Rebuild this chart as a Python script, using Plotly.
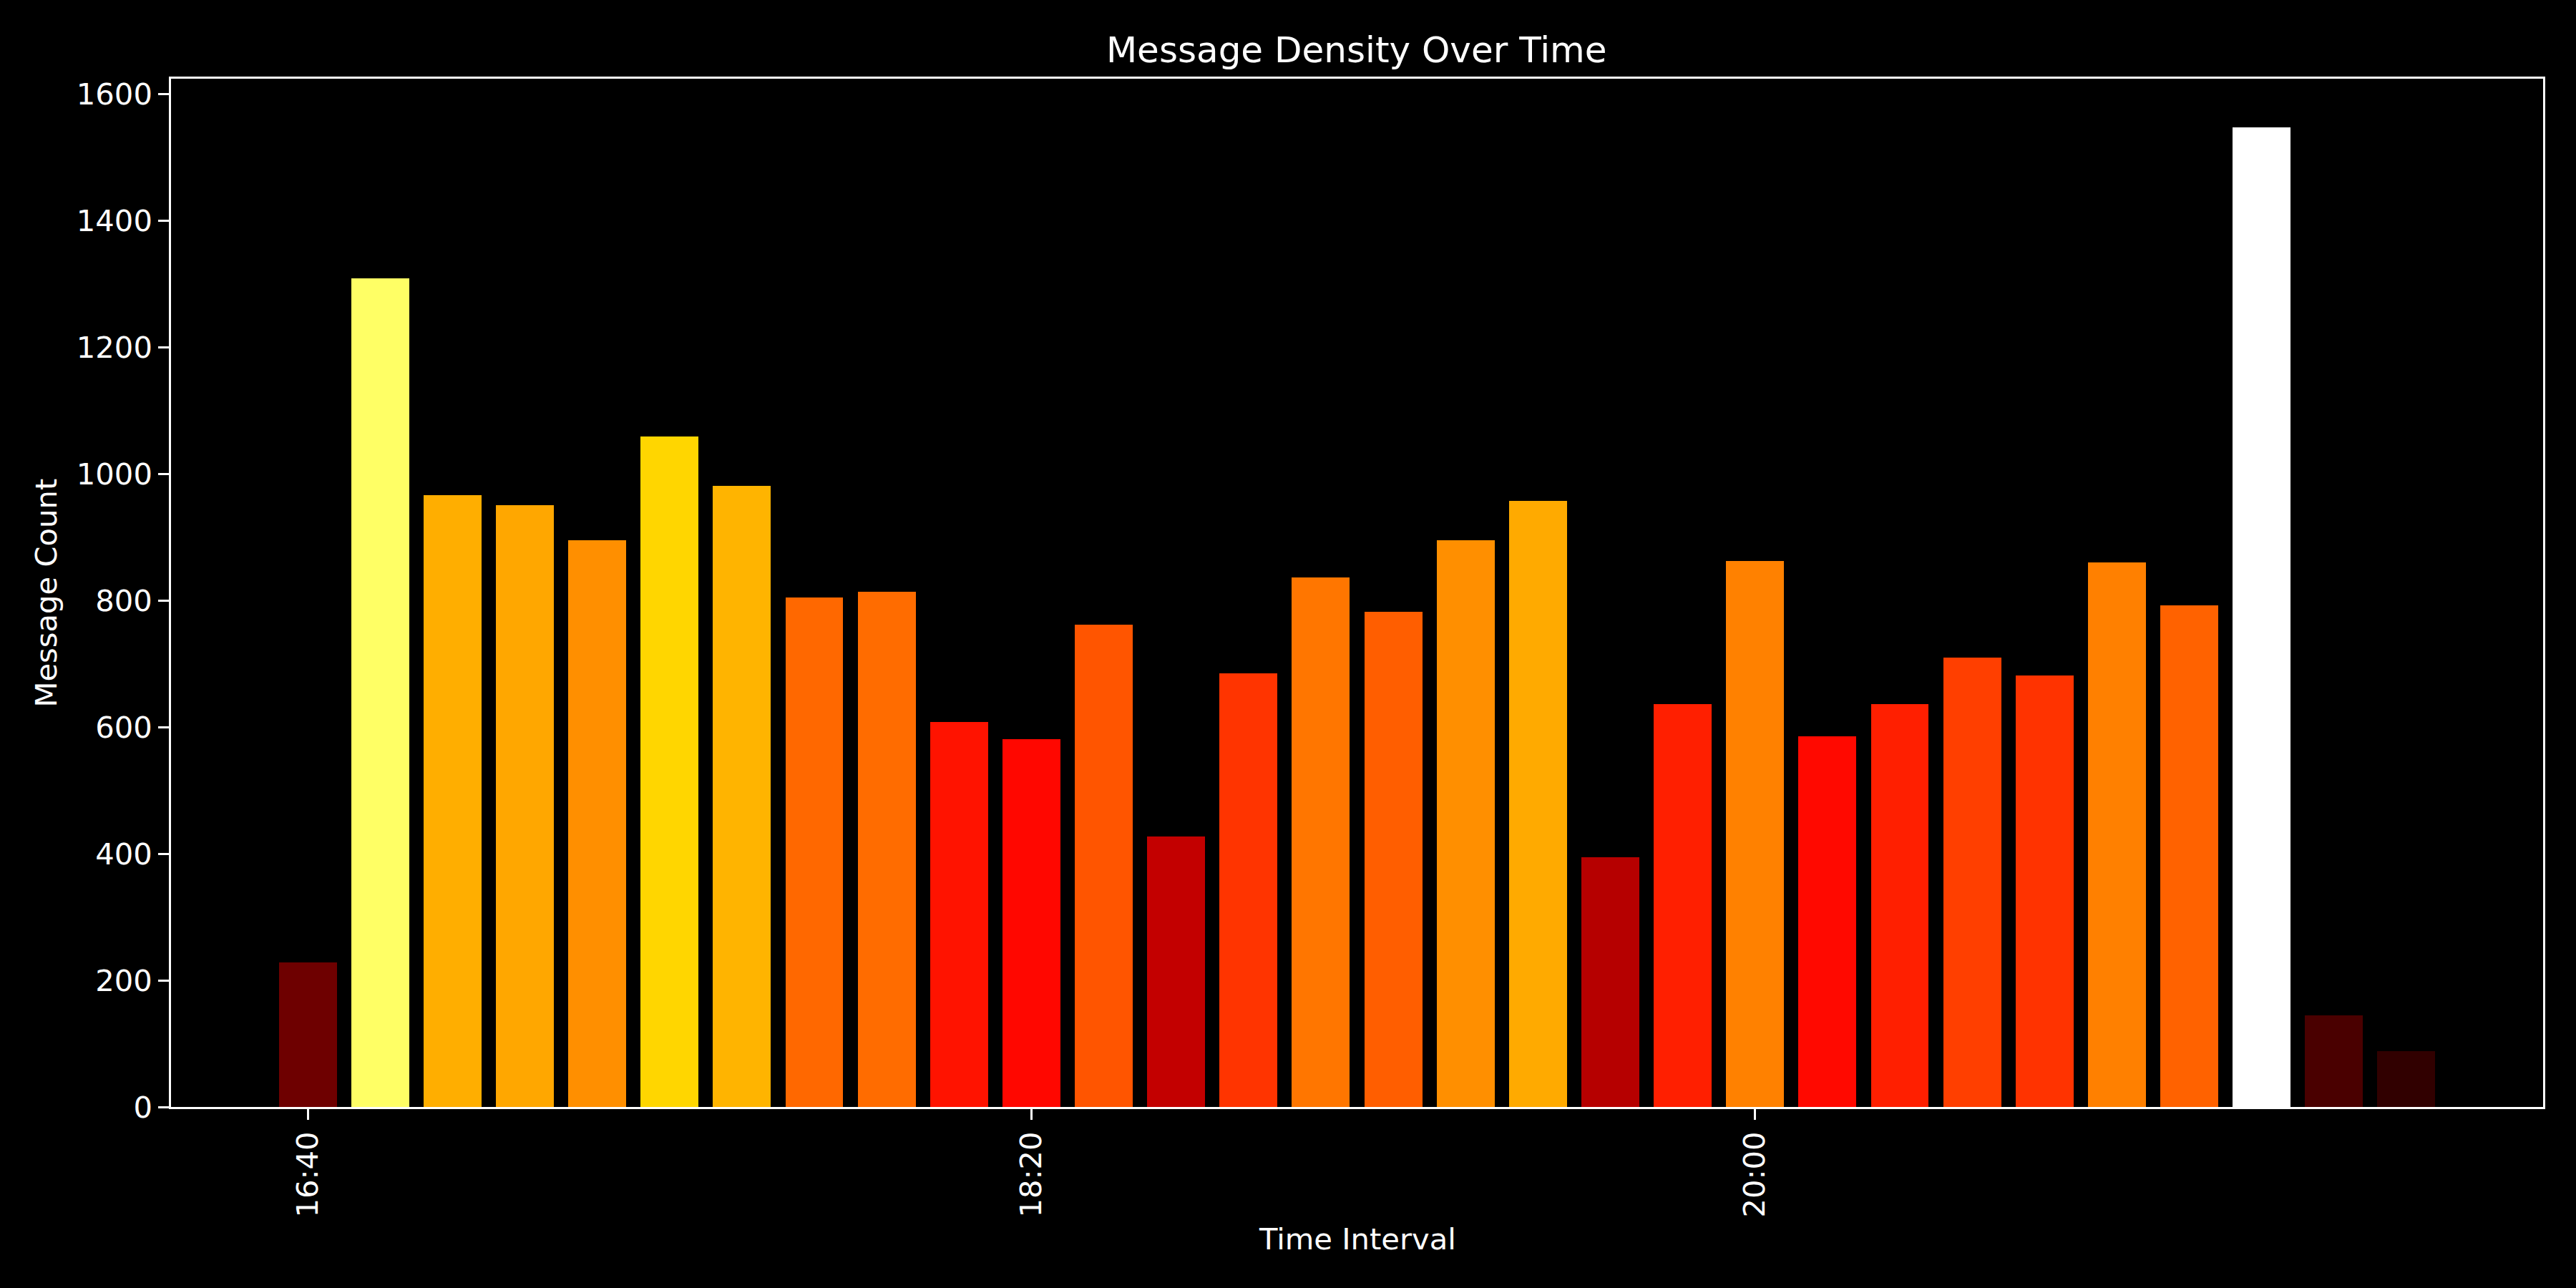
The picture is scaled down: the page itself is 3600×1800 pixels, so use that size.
import pandas as pd
import plotly.graph_objects as go

# ---- data ----
times = ["16:40", "16:50", "17:00", "17:10", "17:20", "17:30", "17:40", "17:50",
         "18:00", "18:10", "18:20", "18:30", "18:40", "18:50", "19:00", "19:10",
         "19:20", "19:30", "19:40", "19:50", "20:00", "20:10", "20:20", "20:30",
         "20:40", "20:50", "21:00", "21:10", "21:20", "21:30"]
counts = [228, 1309, 967, 951, 895, 1059, 981, 805,
          814, 608, 581, 762, 427, 685, 837, 782,
          895, 957, 395, 636, 863, 586, 636, 710,
          682, 860, 792, 1547, 145, 88]
tick_labels = ["16:40", "18:20", "20:00"]
y_ticks = [0, 200, 400, 600, 800, 1000, 1200, 1400, 1600]

DAY = "2024-01-01 "
x = pd.to_datetime([DAY + t for t in times])
tickvals = pd.to_datetime([DAY + t for t in tick_labels])

# matplotlib "hot" colormap
hot = [[0.0, "rgb(11,0,0)"], [0.365079, "rgb(255,0,0)"],
       [0.746032, "rgb(255,255,0)"], [1.0, "rgb(255,255,255)"]]

bar_w = pd.Timedelta(minutes=8)
half = bar_w / 2
extent = (x[-1] + half) - (x[0] - half)
x0 = x[0] - half - 0.05 * extent
x1 = x[-1] + half + 0.05 * extent
ymax = max(counts) * 1.05

FONT = "DejaVu Sans"
TICK = 41.7
fig = go.Figure(go.Bar(
    x=x, y=counts,
    width=bar_w.total_seconds() * 1000,
    marker=dict(color=counts, colorscale=hot, cmin=0, cmax=max(counts), line_width=0),
))

axis_common = dict(
    showgrid=False, zeroline=False, showline=True, linecolor="white", linewidth=3.3,
    mirror=True, ticks="outside", ticklen=14.6, tickwidth=3.3, tickcolor="white",
    tickfont=dict(family=FONT, size=TICK, color="white"),
)
fig.update_xaxes(type="date", range=[x0, x1], tickvals=tickvals, ticktext=tick_labels,
                 tickangle=-90, **axis_common)
fig.update_yaxes(range=[0, ymax], tickvals=y_ticks, **axis_common)

fig.update_layout(
    width=3600, height=1800,
    paper_bgcolor="black", plot_bgcolor="black",
    margin=dict(l=239, r=46, t=110, b=253),
    showlegend=False, bargap=0,
    title=dict(text="Message Density Over Time", x=0.5266, xanchor="center",
               y=1 - 69 / 1800, yanchor="middle", yref="container",
               font=dict(family=FONT, size=50, color="white")),
    annotations=[
        dict(text="Time Interval", xref="paper", yref="paper", x=0.5, y=-(1731 - 1547) / 1437,
             xanchor="center", yanchor="middle", showarrow=False,
             font=dict(family=FONT, size=TICK, color="white")),
        dict(text="Message Count", xref="paper", yref="paper", x=-(239 - 64) / 3315, y=0.5,
             xanchor="center", yanchor="middle", textangle=-90, showarrow=False,
             font=dict(family=FONT, size=TICK, color="white")),
    ],
)

fig.write_html("out.html", config={"displayModeBar": False},
               post_script="document.body.style.margin='0';document.body.style.background='black';")
